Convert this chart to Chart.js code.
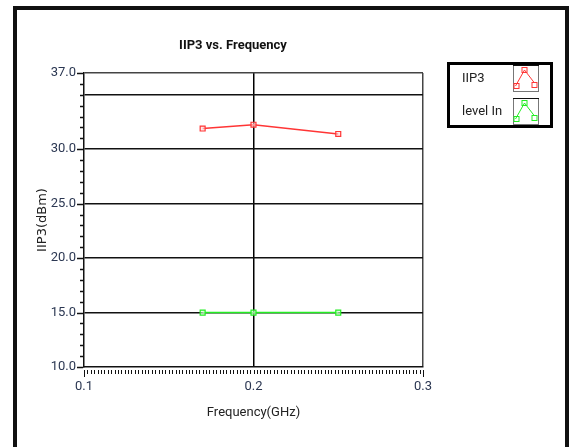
<!DOCTYPE html>
<html>
<head>
<meta charset="utf-8">
<script src="https://cdn.jsdelivr.net/npm/chart.js@4.4.1/dist/chart.umd.min.js"></script>
<style>
  body { margin: 0; background: #fff; }
  #wrap { position: relative; width: 570px; height: 447px; overflow: hidden; }
  #frame { position: absolute; left: 13px; top: 6px; width: 548px; height: 500px; border: 4px solid #111; }
  #myChart { position: absolute; left: 0; top: 0; }
</style>
</head>
<body>
<div id="wrap">
  <div id="frame"></div>
  <canvas id="myChart" width="570" height="447"></canvas>
</div>
<script>
const freqGHz = [0.17, 0.2, 0.25];
const iip3 = [31.9, 32.25, 31.4];
const levelIn = [15, 15, 15];
const xTicks = [0.1, 0.2, 0.3];
const yTicks = [10, 15, 20, 25, 30, 35, 37];
const yLabelled = [10, 15, 20, 25, 30, 37];
const seriesNames = ['IIP3', 'level In'];
const seriesColors = ['#ff3535', '#22ee22'];

const narrow = "Roboto, 'Liberation Sans', sans-serif";
const tickColor = '#2b3752';

// title, minor ticks and the legend box are drawn on top of the chart
const extras = {
  id: 'extras',
  afterDraw(chart) {
    const ctx = chart.ctx;
    const x = chart.scales.x, y = chart.scales.y;
    const area = chart.chartArea;
    ctx.save();

    ctx.fillStyle = '#111';
    ctx.font = 'bold 13px ' + narrow;
    ctx.textAlign = 'center';
    ctx.textBaseline = 'middle';
    ctx.fillText('IIP3 vs. Frequency', 233, 46);

    // y minor ticks
    ctx.strokeStyle = '#111';
    ctx.lineWidth = 1.5;
    ctx.beginPath();
    for (let v = 10; v <= 37; v++) {
      const py = Math.round(y.getPixelForValue(v)) + 0.5;
      const len = yLabelled.includes(v) ? 6 : 3;
      ctx.moveTo(area.left - 1 - len, py);
      ctx.lineTo(area.left - 1, py);
    }
    ctx.stroke();

    // x minor ticks
    ctx.lineWidth = 1;
    ctx.beginPath();
    for (let i = 0; i <= 100; i++) {
      const v = 0.1 + i * 0.002;
      const px = Math.round(x.getPixelForValue(v)) + 0.5;
      const big = (i === 0 || i === 100);
      ctx.moveTo(px, area.bottom + 3);
      ctx.lineTo(px, area.bottom + (big ? 10 : 7));
    }
    ctx.stroke();

    // legend
    ctx.lineWidth = 3;
    ctx.strokeStyle = '#000';
    ctx.strokeRect(448.5, 63.5, 103, 63);
    ctx.font = '13px ' + narrow;
    ctx.textAlign = 'left';
    seriesNames.forEach((name, i) => {
      const top = 65 + i * 33;
      ctx.fillStyle = '#222';
      ctx.fillText(name, 462, top + 14);
      ctx.lineWidth = 1;
      ctx.strokeStyle = '#777';
      ctx.strokeRect(513.5, top + 0.5, 25, 26);
      ctx.strokeStyle = '#111';
      ctx.beginPath();
      ctx.moveTo(513, top + 0.5);
      ctx.lineTo(539, top + 0.5);
      ctx.stroke();
      ctx.strokeStyle = seriesColors[i];
      ctx.beginPath();
      ctx.moveTo(515.5, top + 21);
      ctx.lineTo(524.5, top + 5);
      ctx.lineTo(534.5, top + 18);
      ctx.stroke();
      [[516.5, top + 21], [524.5, top + 5], [534.5, top + 20]].forEach(p => {
        ctx.strokeRect(p[0] - 2.5, p[1] - 2.5, 5, 5);
      });
    });
    ctx.restore();
  }
};

const ctx = document.getElementById('myChart');

new Chart(ctx, {
  type: 'line',
  data: {
    datasets: [{
      label: seriesNames[0],
      data: freqGHz.map((f, i) => ({ x: f, y: iip3[i] })),
      borderColor: seriesColors[0],
      borderWidth: 1.5,
      pointStyle: 'rect',
      pointRadius: 3.5,
      pointBorderWidth: 1.2,
      pointBackgroundColor: 'rgba(255,220,220,0.6)',
      pointBorderColor: seriesColors[0]
    }, {
      label: seriesNames[1],
      data: freqGHz.map((f, i) => ({ x: f, y: levelIn[i] })),
      borderColor: seriesColors[1],
      borderWidth: 1.5,
      pointStyle: 'rect',
      pointRadius: 3.5,
      pointBorderWidth: 1.2,
      pointBackgroundColor: 'rgba(220,255,220,0.6)',
      pointBorderColor: seriesColors[1]
    }]
  },
  options: {
    responsive: false,
    animation: false,
    layout: { padding: { left: 0, top: 73, right: 147, bottom: 20 } },
    plugins: {
      legend: { display: false },
      tooltip: { enabled: false }
    },
    scales: {
      x: {
        type: 'linear',
        min: 0.1,
        max: 0.3,
        afterFit: (s) => { s.height = 60; },
        afterBuildTicks: (s) => { s.ticks = xTicks.map(v => ({ value: v })); },
        ticks: {
          padding: 12,
          color: tickColor,
          font: { size: 13, family: narrow },
          callback: (v) => v.toFixed(1)
        },
        grid: {
          drawTicks: false,
          lineWidth: 1.5,
          color: (c) => c.tick && c.tick.value === 0.2 ? '#000' : (c.tick && c.tick.value === 0.3 ? '#444' : 'transparent')
        },
        border: { display: true, color: '#111', width: 1.5 },
        title: {
          display: true,
          text: 'Frequency(GHz)',
          color: '#222',
          font: { size: 13, family: narrow },
          padding: { top: 0, bottom: 6 }
        }
      },
      y: {
        min: 10,
        max: 37,
        afterFit: (s) => { s.width = 84; },
        afterBuildTicks: (s) => { s.ticks = yTicks.map(v => ({ value: v })); },
        ticks: {
          padding: 8,
          color: tickColor,
          font: { size: 13, family: narrow },
          callback: (v) => yLabelled.includes(v) ? v.toFixed(1) : ''
        },
        grid: {
          drawTicks: false,
          lineWidth: 1.5,
          color: (c) => {
            if (!c.tick) return 'transparent';
            if (c.tick.value === 10) return 'transparent';
            if (c.tick.value === 37) return '#444';
            return '#111';
          }
        },
        border: { display: true, color: '#111', width: 1.5 },
        title: {
          display: true,
          text: 'IIP3(dBm)',
          color: '#222',
          font: { size: 13, family: "'DejaVu Sans', sans-serif" },
          padding: { top: 35, bottom: 0 }
        }
      }
    }
  },
  plugins: [extras]
});
</script>
</body>
</html>
